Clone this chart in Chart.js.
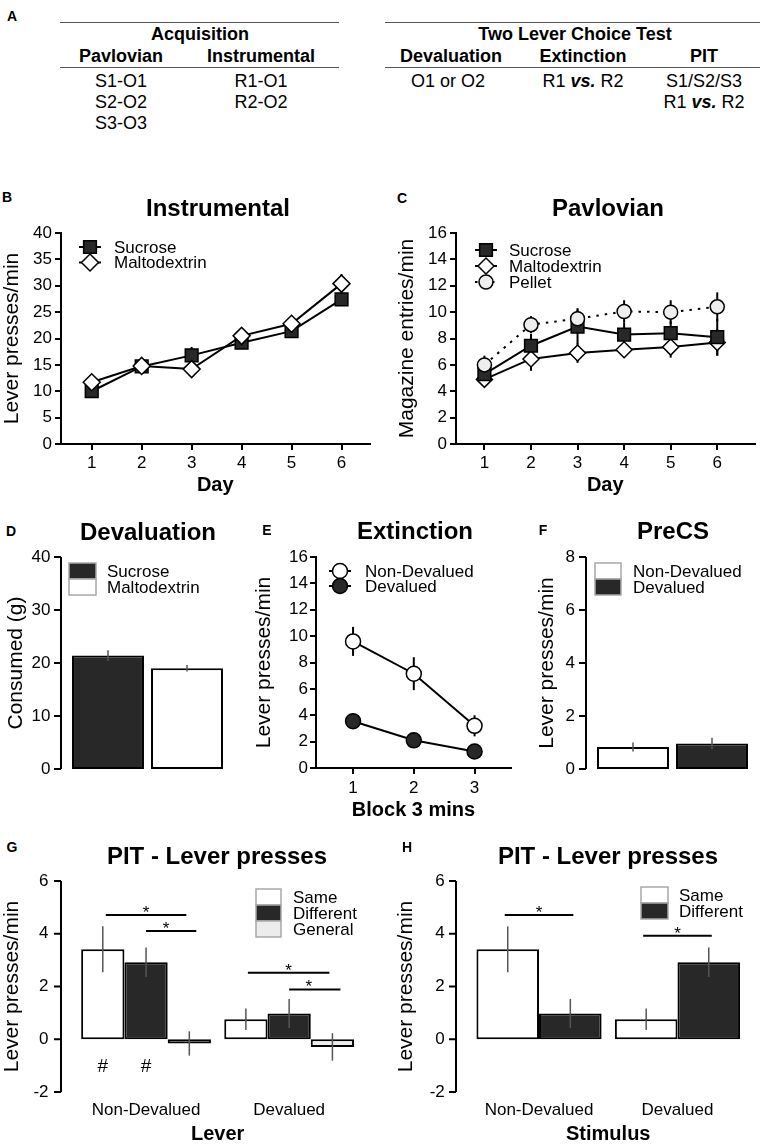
<!DOCTYPE html>
<html>
<head>
<meta charset="utf-8">
<script src="https://cdn.jsdelivr.net/npm/chart.js@4.4.1/dist/chart.umd.min.js"></script>
<style>
  body { margin: 0; background: #fff; }
  #fig { position: relative; width: 765px; height: 1145px; overflow: hidden; background: #fff;
         font-family: "Liberation Sans", Arial, sans-serif; color: #000; }
  canvas { position: absolute; }
  .t { position: absolute; transform: translate(-50%, -50%); white-space: nowrap; }
  .lt { font-weight: bold; font-size: 14px; }
  .ttl { font-weight: bold; font-size: 24px; }
  .tb { font-size: 18px; }
  .b { font-weight: bold; }
  .hl { position: absolute; height: 0; border-top: 1.5px solid #555; }
</style>
</head>
<body>
<div id="fig">
  <canvas id="chB" width="380" height="285" style="left:0;top:215px"></canvas>
  <canvas id="chC" width="385" height="285" style="left:380px;top:215px"></canvas>
  <canvas id="chD" width="255" height="240" style="left:0;top:540px"></canvas>
  <canvas id="chE" width="270" height="285" style="left:250px;top:540px"></canvas>
  <canvas id="chF" width="255" height="240" style="left:510px;top:540px"></canvas>
  <canvas id="chG" width="380" height="280" style="left:0;top:865px"></canvas>
  <canvas id="chH" width="385" height="280" style="left:380px;top:865px"></canvas>

  <!-- panel A table -->
  <div class="hl" style="left:60px;top:22px;width:279px"></div>
  <div class="hl" style="left:60px;top:67px;width:279px"></div>
  <div class="hl" style="left:385px;top:22px;width:375px"></div>
  <div class="hl" style="left:385px;top:67px;width:375px"></div>
  <div class="t tb b" style="left:200px;top:34px">Acquisition</div>
  <div class="t tb b" style="left:121px;top:56px">Pavlovian</div>
  <div class="t tb b" style="left:261px;top:56px">Instrumental</div>
  <div class="t tb" style="left:121px;top:81px">S1-O1</div>
  <div class="t tb" style="left:121px;top:102px">S2-O2</div>
  <div class="t tb" style="left:121px;top:123px">S3-O3</div>
  <div class="t tb" style="left:261px;top:81px">R1-O1</div>
  <div class="t tb" style="left:261px;top:102px">R2-O2</div>
  <div class="t tb b" style="left:575px;top:34px">Two Lever Choice Test</div>
  <div class="t tb b" style="left:451px;top:56px">Devaluation</div>
  <div class="t tb b" style="left:583px;top:56px">Extinction</div>
  <div class="t tb b" style="left:704px;top:56px">PIT</div>
  <div class="t tb" style="left:448px;top:81px">O1 or O2</div>
  <div class="t tb" style="left:583px;top:81px">R1 <b><i>vs.</i></b> R2</div>
  <div class="t tb" style="left:704px;top:81px">S1/S2/S3</div>
  <div class="t tb" style="left:704px;top:102px">R1 <b><i>vs.</i></b> R2</div>

  <!-- panel letters -->
  <div class="t lt" style="left:12px;top:16px">A</div>
  <div class="t lt" style="left:7px;top:197px">B</div>
  <div class="t lt" style="left:402px;top:198px">C</div>
  <div class="t lt" style="left:11px;top:531px">D</div>
  <div class="t lt" style="left:267px;top:530px">E</div>
  <div class="t lt" style="left:543px;top:530px">F</div>
  <div class="t lt" style="left:12px;top:847px">G</div>
  <div class="t lt" style="left:407px;top:847px">H</div>

  <!-- panel titles -->
  <div class="t ttl" style="left:218px;top:208px">Instrumental</div>
  <div class="t ttl" style="left:608px;top:208px">Pavlovian</div>
  <div class="t ttl" style="left:148px;top:532px">Devaluation</div>
  <div class="t ttl" style="left:415px;top:531px">Extinction</div>
  <div class="t ttl" style="left:673px;top:531px">PreCS</div>
  <div class="t ttl" style="left:217px;top:856px">PIT - Lever presses</div>
  <div class="t ttl" style="left:608px;top:856px">PIT - Lever presses</div>
</div>

<script>
// ---- data ----
const days = [1, 2, 3, 4, 5, 6];
const instrSucrose = [10.0, 14.7, 16.8, 19.2, 21.4, 27.4];
const instrSucroseSem = [0.6, 0.7, 1.6, 0.9, 1.0, 1.2];
const instrMalto = [11.7, 14.8, 14.2, 20.5, 22.8, 30.4];
const instrMaltoSem = [0.6, 0.6, 0.8, 0.7, 0.8, 1.8];

const pavSucrose = [5.3, 7.45, 8.9, 8.3, 8.4, 8.1];
const pavSucroseSem = [0.5, 0.9, 1.3, 0.9, 0.9, 1.4];
const pavMalto = [4.9, 6.45, 6.9, 7.15, 7.35, 7.7];
const pavMaltoSem = [0.3, 0.9, 0.75, 0.6, 0.8, 1.0];
const pavPellet = [6.0, 9.05, 9.5, 10.05, 10.0, 10.4];
const pavPelletSem = [0.7, 0.65, 0.8, 0.85, 0.9, 1.1];

const devalGroup = ['Devaluation'];
const devalSucrose = [21.4];
const devalSucroseSem = [1.0];
const devalMalto = [19.0];
const devalMaltoSem = [0.6];

const blocks = [1, 2, 3];
const extNonDev = [9.6, 7.15, 3.2];
const extNonDevSem = [1.1, 1.25, 0.8];
const extDev = [3.55, 2.1, 1.25];
const extDevSem = [0.35, 0.3, 0.25];

const precsGroup = ['PreCS'];
const precsNonDev = [0.83];
const precsNonDevSem = [0.17];
const precsDev = [0.96];
const precsDevSem = [0.22];

const leverCats = ['Non-Devalued', 'Devalued'];
const pitSame = [3.41, 0.76];
const pitSameSem = [0.87, 0.41];
const pitDifferent = [2.92, 0.98];
const pitDifferentSem = [0.56, 0.55];
const pitGeneral = [-0.16, -0.29];
const pitGeneralSem = [0.46, 0.52];

const stimCats = ['Non-Devalued', 'Devalued'];
const stimSame = [3.41, 0.76];
const stimSameSem = [0.87, 0.41];
const stimDifferent = [0.98, 2.92];
const stimDifferentSem = [0.55, 0.56];

// ---- look ----
const FONT = '"Liberation Sans", Arial, sans-serif';
const DARK = '#282828';
const LIGHT = '#ececec';
Chart.defaults.font.family = FONT;
Chart.defaults.font.size = 17;
Chart.defaults.color = '#000';

function pts(xs, ys) { return xs.map((x, i) => ({ x: x, y: ys[i] })); }

function drawMarker(ctx, style, r, x, y, fill, stroke, lw) {
  ctx.beginPath();
  if (style === 'rect') {
    const s = r * Math.SQRT1_2;
    ctx.rect(x - s, y - s, 2 * s, 2 * s);
  } else if (style === 'rectRot') {
    ctx.moveTo(x, y - r); ctx.lineTo(x + r, y); ctx.lineTo(x, y + r); ctx.lineTo(x - r, y); ctx.closePath();
  } else {
    ctx.arc(x, y, r, 0, Math.PI * 2);
  }
  ctx.fillStyle = fill; ctx.fill();
  ctx.strokeStyle = stroke; ctx.lineWidth = lw; ctx.stroke();
}

function drawErr(chart, o) {
  const ctx = chart.ctx, ys = chart.scales.y;
  ctx.save();
  ctx.strokeStyle = o.color || '#000';
  ctx.lineWidth = o.width || 2;
  chart.data.datasets.forEach((ds, di) => {
    if (!ds.sem) return;
    chart.getDatasetMeta(di).data.forEach((el, i) => {
      const raw = ds.data[i];
      const v = typeof raw === 'object' ? raw.y : raw;
      ctx.beginPath();
      ctx.moveTo(el.x, ys.getPixelForValue(v + ds.sem[i]));
      ctx.lineTo(el.x, ys.getPixelForValue(v - ds.sem[i]));
      ctx.stroke();
    });
  });
  ctx.restore();
}

const errorBars = {
  id: 'errorBars',
  beforeDatasetsDraw(chart, args, o) { if (o.under) drawErr(chart, o); },
  afterDatasetsDraw(chart, args, o) { if (!o.under) drawErr(chart, o); }
};

// y axis line drawn a little left of the bars
const sideAxis = {
  id: 'sideAxis',
  afterDraw(chart, args, o) {
    if (o.gap == null) return;
    const ys = chart.scales.y, ctx = chart.ctx;
    const x = chart.chartArea.left - o.gap;
    ctx.save();
    ctx.strokeStyle = '#000'; ctx.lineWidth = 2;
    ctx.beginPath();
    ctx.moveTo(x, ys.top); ctx.lineTo(x, ys.bottom);
    ys.ticks.forEach(t => {
      const py = ys.getPixelForValue(t.value);
      ctx.moveTo(x - o.len, py); ctx.lineTo(x, py);
    });
    ctx.stroke();
    ctx.restore();
  }
};

const figLegend = {
  id: 'figLegend',
  afterDraw(chart, args, o) {
    if (o.x == null) return;
    const ctx = chart.ctx;
    ctx.save();
    ctx.font = '17px ' + FONT;
    ctx.textBaseline = 'middle';
    chart.data.datasets.forEach((ds, i) => {
      const y = o.y + i * o.dy;
      if (o.kind === 'line') {
        ctx.strokeStyle = ds.borderColor; ctx.lineWidth = ds.borderWidth;
        ctx.setLineDash(ds.borderDash || []);
        ctx.beginPath(); ctx.moveTo(o.x - 11, y); ctx.lineTo(o.x + 11, y); ctx.stroke();
        ctx.setLineDash([]);
        drawMarker(ctx, ds.pointStyle, ds.pointRadius, o.x, y, ds.pointBackgroundColor, ds.pointBorderColor, ds.pointBorderWidth);
      } else {
        ctx.fillStyle = ds.backgroundColor;
        ctx.fillRect(o.x, y - o.h / 2, o.w, o.h);
        ctx.strokeStyle = '#a8a8a8'; ctx.lineWidth = 1.5;
        ctx.strokeRect(o.x, y - o.h / 2, o.w, o.h);
      }
      ctx.fillStyle = '#000';
      ctx.fillText(ds.label, o.tx, y + 1);
    });
    ctx.restore();
  }
};

const sigMarks = {
  id: 'sigMarks',
  afterDatasetsDraw(chart, args, o) {
    if (!o.lines) return;
    const ctx = chart.ctx, ys = chart.scales.y;
    const bx = (d, c) => chart.getDatasetMeta(d).data[c].x;
    ctx.save();
    ctx.strokeStyle = '#000'; ctx.fillStyle = '#000'; ctx.lineWidth = 2; ctx.textAlign = 'center';
    o.lines.forEach(l => {
      const x1 = bx(l.a[0], l.a[1]) + (l.da || 0);
      const x2 = bx(l.b[0], l.b[1]) + (l.db || 0);
      const y = ys.getPixelForValue(l.y);
      ctx.beginPath(); ctx.moveTo(x1, y); ctx.lineTo(x2, y); ctx.stroke();
      ctx.font = '17px ' + FONT; ctx.textBaseline = 'alphabetic';
      ctx.fillText('*', (x1 + x2) / 2 + (l.sx || 0), y + 3);
    });
    (o.marks || []).forEach(m => {
      ctx.font = '19px ' + FONT; ctx.textBaseline = 'middle';
      ctx.fillText(m.text, bx(m.d, m.c), ys.getPixelForValue(m.y));
    });
    ctx.restore();
  }
};

const PLUGINS = [errorBars, sideAxis, figLegend, sigMarks];

function yAxis(o) {
  return {
    min: o.min, max: o.max,
    // fixed width, and no extra label padding so the plot area sits where the layout padding says
    afterFit: s => { s.width = o.width; s.paddingTop = 0; s.paddingBottom = 0; },
    border: { display: !o.side, color: '#000', width: 2 },
    grid: { display: !o.side, drawOnChartArea: false, drawTicks: !o.side, tickLength: 6, color: '#000', lineWidth: 2 },
    ticks: { stepSize: o.step, padding: o.pad, color: '#000', font: { size: 17 } },
    title: { display: true, text: o.title, color: '#000', font: { size: 21, lineHeight: 1.2 }, padding: { top: o.tpad, bottom: 0 } }
  };
}

function xLinear(o) {
  return {
    type: 'linear', min: o.min, max: o.max,
    afterFit: s => { s.height = o.height; },
    afterBuildTicks: s => { s.ticks = o.values.map(v => ({ value: v })); },
    border: { color: '#000', width: 2 },
    grid: { drawOnChartArea: false, tickLength: 6, color: '#000', lineWidth: 2 },
    ticks: { padding: o.pad, color: '#000', font: { size: 17 }, maxRotation: 0, autoSkip: false },
    title: { display: true, text: o.title, color: '#000', font: { size: 20, weight: 'bold', lineHeight: 1 }, padding: { top: 0, bottom: o.tpad } }
  };
}

function xCat(o) {
  if (!o.show) return { display: false };
  return {
    afterFit: s => { s.height = o.height; },
    border: { display: false },
    grid: { display: false, drawTicks: false },
    ticks: { padding: o.pad, color: '#000', font: { size: 17 }, maxRotation: 0 },
    title: { display: true, text: o.title, color: '#000', font: { size: 20, weight: 'bold', lineHeight: 1 }, padding: { top: 0, bottom: o.tpad } }
  };
}

function base(pad, scales, plugins, barPct) {
  const opts = {
    responsive: false, animation: false, devicePixelRatio: 1, events: [],
    layout: { padding: pad },
    scales: scales,
    plugins: Object.assign({ legend: { display: false }, tooltip: { enabled: false } }, plugins)
  };
  if (barPct) opts.datasets = { bar: { categoryPercentage: barPct[0], barPercentage: barPct[1] } };
  return opts;
}

function lineSet(label, xs, ys, sem, style, r, fill, dash, order) {
  return {
    label: label, data: pts(xs, ys), sem: sem, order: order || 0,
    borderColor: '#000', borderWidth: 2, borderDash: dash || [],
    pointStyle: style, pointRadius: r, pointBackgroundColor: fill,
    pointBorderColor: '#000', pointBorderWidth: 1.5, clip: false
  };
}

function barSet(label, vals, sem, fill) {
  return {
    label: label, data: vals, sem: sem, backgroundColor: fill,
    borderColor: '#000', borderWidth: 2, borderSkipped: false
  };
}

// B - Instrumental
new Chart(document.getElementById('chB'), {
  type: 'line',
  data: { datasets: [
    lineSet('Sucrose', days, instrSucrose, instrSucroseSem, 'rect', 9, DARK),
    lineSet('Maltodextrin', days, instrMalto, instrMaltoSem, 'rectRot', 8.5, '#fff', null, -1)
  ] },
  options: base({ top: 18, right: 8, left: 0, bottom: 0 }, {
    x: xLinear({ min: 0.385, max: 6.56, height: 56, values: days, pad: 3, title: 'Day', tpad: 5 }),
    y: yAxis({ min: 0, max: 40, step: 5, width: 61, pad: 3, title: 'Lever presses/min', tpad: 0 })
  }, {
    errorBars: { under: true, color: '#000', width: 2 },
    figLegend: { kind: 'line', x: 90, y: 32, dy: 15.5, tx: 114 }
  }),
  plugins: PLUGINS
});

// C - Pavlovian
new Chart(document.getElementById('chC'), {
  type: 'line',
  data: { datasets: [
    lineSet('Sucrose', days, pavSucrose, pavSucroseSem, 'rect', 9, DARK),
    lineSet('Maltodextrin', days, pavMalto, pavMaltoSem, 'rectRot', 8, '#fff'),
    lineSet('Pellet', days, pavPellet, pavPelletSem, 'circle', 7, '#eeeeee', [2.5, 6], -1)
  ] },
  options: base({ top: 18, right: 4, left: 0, bottom: 0 }, {
    x: xLinear({ min: 0.39, max: 6.8, height: 56, values: days, pad: 3, title: 'Day', tpad: 5 }),
    y: yAxis({ min: 0, max: 16, step: 2, width: 76, pad: 3, title: 'Magazine entries/min', tpad: 15 })
  }, {
    errorBars: { under: true, color: '#000', width: 2 },
    figLegend: { kind: 'line', x: 106, y: 35, dy: 16, tx: 129 }
  }),
  plugins: PLUGINS
});

// D - Devaluation
new Chart(document.getElementById('chD'), {
  type: 'bar',
  data: { labels: devalGroup, datasets: [
    barSet('Sucrose', devalSucrose, devalSucroseSem, DARK),
    barSet('Maltodextrin', devalMalto, devalMaltoSem, '#fff')
  ] },
  options: base({ top: 17, right: 28.5, left: 0, bottom: 11 }, {
    x: xCat({ show: false }),
    y: yAxis({ min: 0, max: 40, step: 10, width: 68.5, pad: 18, title: 'Consumed (g)', tpad: 4, side: true })
  }, {
    errorBars: { under: false, color: '#555', width: 1.5 },
    sideAxis: { gap: 7.5, len: 7 },
    figLegend: { kind: 'box', x: 69, y: 31, dy: 16, w: 27, h: 16, tx: 107 }
  }, [1, 0.911]),
  plugins: PLUGINS
});

// E - Extinction
new Chart(document.getElementById('chE'), {
  type: 'line',
  data: { datasets: [
    lineSet('Non-Devalued', blocks, extNonDev, extNonDevSem, 'circle', 7.5, '#fff'),
    lineSet('Devalued', blocks, extDev, extDevSem, 'circle', 7.5, DARK)
  ] },
  options: base({ top: 17, right: 5, left: 0, bottom: 0 }, {
    x: xLinear({ min: 0.39, max: 3.6, height: 57, values: blocks, pad: 4, title: 'Block 3 mins', tpad: 5 }),
    y: yAxis({ min: 0, max: 16, step: 2, width: 66, pad: 2, title: 'Lever presses/min', tpad: 2 })
  }, {
    errorBars: { under: true, color: '#000', width: 2 },
    figLegend: { kind: 'line', x: 90, y: 31, dy: 15, tx: 115 }
  }),
  plugins: PLUGINS
});

// F - PreCS
new Chart(document.getElementById('chF'), {
  type: 'bar',
  data: { labels: precsGroup, datasets: [
    barSet('Non-Devalued', precsNonDev, precsNonDevSem, '#fff'),
    barSet('Devalued', precsDev, precsDevSem, DARK)
  ] },
  options: base({ top: 17, right: 13.5, left: 0, bottom: 11 }, {
    x: xCat({ show: false }),
    y: yAxis({ min: 0, max: 8, step: 2, width: 83.5, pad: 18.5, title: 'Lever presses/min', tpad: 25, side: true })
  }, {
    errorBars: { under: false, color: '#555', width: 1.5 },
    sideAxis: { gap: 7.5, len: 7 },
    figLegend: { kind: 'box', x: 85, y: 31, dy: 16, w: 26, h: 16, tx: 123 }
  }, [1, 0.911]),
  plugins: PLUGINS
});

// G - PIT by lever
new Chart(document.getElementById('chG'), {
  type: 'bar',
  data: { labels: leverCats, datasets: [
    barSet('Same', pitSame, pitSameSem, '#fff'),
    barSet('Different', pitDifferent, pitDifferentSem, DARK),
    barSet('General', pitGeneral, pitGeneralSem, LIGHT)
  ] },
  options: base({ top: 16, right: 19.3, left: 0, bottom: 0 }, {
    x: xCat({ show: true, height: 53, pad: 8, title: 'Lever', tpad: 1 }),
    y: yAxis({ min: -2, max: 6, step: 2, width: 74.5, pad: 26, title: 'Lever presses/min', tpad: 0, side: true })
  }, {
    errorBars: { under: false, color: '#555', width: 1.5 },
    sideAxis: { gap: 13.5, len: 7 },
    figLegend: { kind: 'box', x: 256, y: 32, dy: 16, w: 25, h: 16, tx: 293 },
    sigMarks: {
      lines: [
        { a: [0, 0], b: [2, 0], y: 4.71, da: 3, db: -3 },
        { a: [1, 0], b: [2, 0], y: 4.1, da: 0, db: 7, sx: -5 },
        { a: [0, 1], b: [2, 1], y: 2.52, da: 2, db: -3 },
        { a: [1, 1], b: [2, 1], y: 1.89, da: 0, db: 8, sx: -6 }
      ],
      marks: [ { text: '#', d: 0, c: 0, y: -1.06 }, { text: '#', d: 1, c: 0, y: -1.06 } ]
    }
  }, [0.907, 1]),
  plugins: PLUGINS
});

// H - PIT by stimulus
new Chart(document.getElementById('chH'), {
  type: 'bar',
  data: { labels: stimCats, datasets: [
    barSet('Same', stimSame, stimSameSem, '#fff'),
    barSet('Different', stimDifferent, stimDifferentSem, DARK)
  ] },
  options: base({ top: 16, right: 18.3, left: 0, bottom: 0 }, {
    x: xCat({ show: true, height: 53, pad: 8, title: 'Stimulus', tpad: 1 }),
    y: yAxis({ min: -2, max: 6, step: 2, width: 89.8, pad: 25, title: 'Lever presses/min', tpad: 14, side: true })
  }, {
    errorBars: { under: false, color: '#555', width: 1.5 },
    sideAxis: { gap: 13.8, len: 7 },
    figLegend: { kind: 'box', x: 261, y: 30, dy: 16, w: 27, h: 16, tx: 299 },
    sigMarks: {
      lines: [
        { a: [0, 0], b: [1, 0], y: 4.71, da: -3, db: 3 },
        { a: [0, 1], b: [1, 1], y: 3.92, da: -3, db: 3 }
      ]
    }
  }, [0.904, 1]),
  plugins: PLUGINS
});
</script>
</body>
</html>
